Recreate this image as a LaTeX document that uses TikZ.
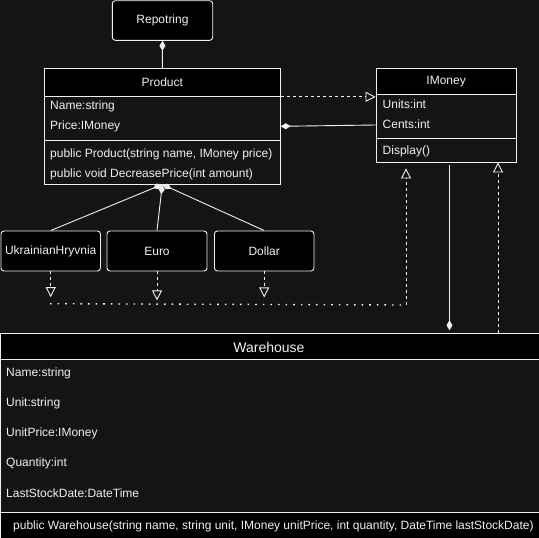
\documentclass[tikz,border=0pt]{standalone}
\usepackage{fontspec}
\setmainfont{Liberation Sans}
\usetikzlibrary{arrows.meta}
\definecolor{canvas}{RGB}{20,20,20}
\definecolor{ink}{RGB}{240,240,240}
\begin{document}
\begin{tikzpicture}[x=1pt,y=-1pt,
  every node/.style={text=ink, font=\fontsize{12}{14}\selectfont},
  rbox/.style={draw=ink, fill=black, rounded corners=3pt, inner sep=0pt, line width=0.9pt},
  hdr/.style={draw=ink, fill=black, inner sep=0pt, line width=0.9pt},
  body/.style={draw=ink, fill=canvas, inner sep=0pt, line width=0.9pt},
  cbody/.style={draw=ink, fill=black, inner sep=0pt, line width=0.9pt},
  field/.style={anchor=west, inner sep=0pt},
  link/.style={draw=ink, line width=0.9pt},
  comp/.style={link, {Diamond[length=10pt,width=6pt]}-},
  real/.style={link, dash pattern=on 3pt off 3pt, -{Triangle[open,length=10pt,width=10pt]}},
  bus/.style={link, line width=1.4pt, dash pattern=on 1.6pt off 6pt},
  busup/.style={link, dash pattern=on 3pt off 3pt}
]
\useasboundingbox (0,0) rectangle (539,538);
\fill[canvas] (0,0) rectangle (539,538);

% Repotring
\node[rbox, minimum width=100.4pt, minimum height=39.6pt] (rep) at (162.5,20.5) {Repotring};

% Product class
\node[hdr, minimum width=236pt, minimum height=27.6pt] (prodH) at (162.3,82.5) {Product};
\node[body, minimum width=236pt, minimum height=44pt] (prodA) at (162.3,118.3) {};
\node[body, minimum width=236pt, minimum height=43.7pt] (prodM) at (162.3,162.15) {};
\node[field] (pName) at (50,106) {Name:string};
\node[field] (pPrice) at (50,126) {Price:IMoney};
\node[field] (pCtor) at (50,154) {public Product(string name, IMoney price)};
\node[field] (pDec) at (50,174) {public void DecreasePrice(int amount)};

% IMoney class
\node[hdr, minimum width=140.3pt, minimum height=26pt] (imH) at (446.15,81.3) {IMoney};
\node[body, minimum width=140.3pt, minimum height=44.4pt] (imA) at (446.15,116.5) {};
\node[body, minimum width=140.3pt, minimum height=23.3pt] (imM) at (446.15,150.35) {};
\node[field] (iUnits) at (382.5,104) {Units:int};
\node[field] (iCents) at (382.5,124) {Cents:int};
\node[field] (iDisp) at (382.5,151) {Display()};

% Currencies
\node[rbox, minimum width=99.5pt, minimum height=40pt] (ukr) at (50.7,251) {UkrainianHryvnia};
\node[rbox, minimum width=100pt, minimum height=40pt] (eur) at (157,251) {Euro};
\node[rbox, minimum width=99.5pt, minimum height=40pt] (usd) at (264.2,251) {Dollar};

% Warehouse class
\node[hdr, minimum width=544.5pt, minimum height=26.2pt, font=\fontsize{14}{16}\selectfont] (whH) at (272.75,346.4) {};
\node[font=\fontsize{14}{16}\selectfont, inner sep=0pt] (whT) at (269,347) {Warehouse};
\node[body, minimum width=544.5pt, minimum height=153.2pt] (whA) at (272.75,436.1) {};
\node[cbody, minimum width=544.5pt, minimum height=32.3pt] (whM) at (272.75,528.85) {};
\node[field] (wName) at (6,373) {Name:string};
\node[field] (wUnit) at (6,403) {Unit:string};
\node[field] (wPrice) at (6,433) {UnitPrice:IMoney};
\node[field] (wQty) at (6,463) {Quantity:int};
\node[field] (wDate) at (6,493) {LastStockDate:DateTime};
\node[field] (wCtor) at (13,526) {public Warehouse(string name, string unit, IMoney unitPrice, int quantity, DateTime lastStockDate)};

% Composition links
\draw[comp] (rep.south) -- (prodH.north);
\draw[comp] ([yshift=-8pt]prodA.east) -- ([yshift=-8.5pt]imA.west);
\draw[comp] (prodM.south) -- (ukr.north);
\draw[comp] (prodM.south) -- (eur.north);
\draw[comp] (prodM.south) -- (usd.north);
\coordinate (wLink) at (449.5,333.3);
\draw[comp, shorten <=3pt, shorten >=3pt] (wLink) -- (wLink |- imM.south);

% Realization links
\draw[real] ([yshift=-1pt]prodA.north east) -- ([yshift=-1pt]prodA.north east -| imA.west);
\coordinate (ukrEnd) at ([yshift=-25.7pt]ukr.south);
\coordinate (eurEnd) at ([yshift=-29pt]eur.south);
\coordinate (usdEnd) at ([yshift=-26pt]usd.south);
\draw[real] (ukr.south) -- (ukrEnd);
\draw[real] (eur.south) -- (eurEnd);
\draw[real] (usd.south) -- (usdEnd);
\coordinate (busL) at (50,303.7);
\coordinate (busR) at (406,305);
\draw[bus] (busL) -- (busR);
\draw[busup, -{Triangle[open,length=10pt,width=10pt]}] (busR) -- ([yshift=-6pt]imM.south -| busR);
\coordinate (wReal) at (498,333.3);
\draw[real] (wReal) -- (wReal |- imM.south);
\end{tikzpicture}
\end{document}
